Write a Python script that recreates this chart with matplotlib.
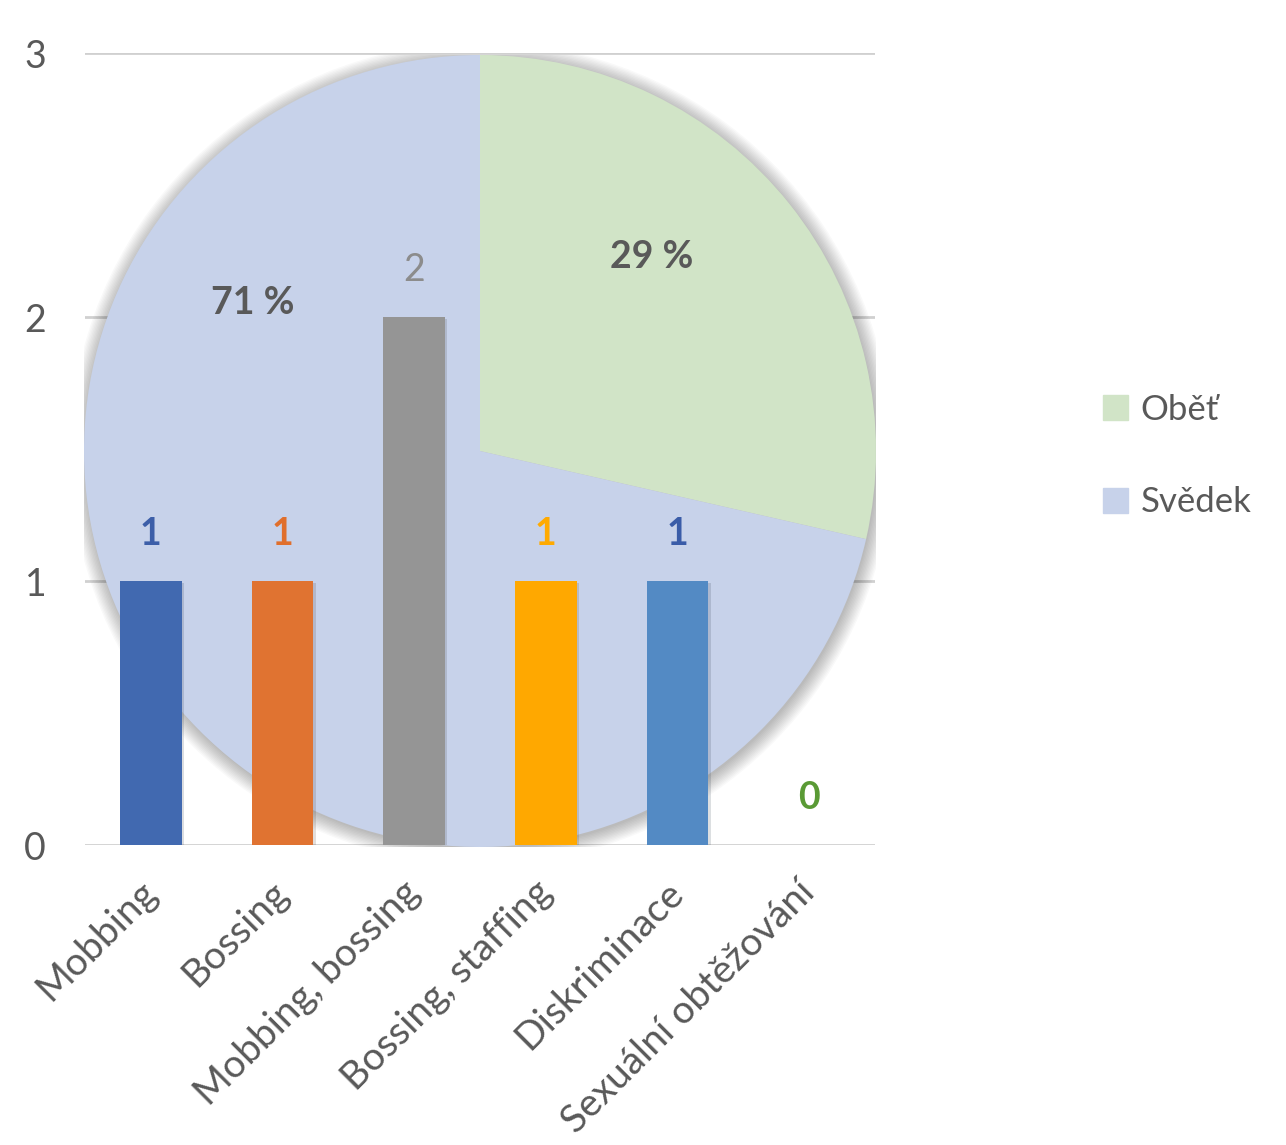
import matplotlib
matplotlib.use("Agg")
import matplotlib.pyplot as plt
from matplotlib.patches import Patch, Circle
import matplotlib.patheffects as pe
from matplotlib.transforms import ScaledTranslation

plt.rcParams['font.family'] = ['Lato', 'DejaVu Sans']

# Bar data
categories = ["Mobbing", "Bossing", "Mobbing, bossing", "Bossing, staffing",
              "Diskriminace", "Sexuální obtěžování"]
bar_values = [1, 1, 2, 1, 1, 0]
bar_colors = ["#4169B0", "#E07331", "#959595", "#FFA800", "#538AC4", "#70AD47"]
label_colors = ["#3C5EA8", "#E06F2C", "#8C8C8C", "#FFAA00", "#3A5CA8", "#5A9A35"]
label_weights = ["bold", "bold", "normal", "bold", "bold", "bold"]

# Pie data
pie_labels = ["Oběť", "Svědek"]
pie_values = [2, 5]
pie_colors = ["#D1E4C7", "#C7D2EA"]
yticks = [0, 1, 2, 3]

W, H = 1286, 1145
fig = plt.figure(figsize=(W / 100, H / 100), dpi=100)

def box(l, t, r, b):
    return [l / W, 1 - b / H, (r - l) / W, (b - t) / H]

# background axes: grid, ticks
ax_bg = fig.add_axes(box(85, 53, 875, 845))
ax_bg.set_xlim(-0.5, len(categories) - 0.5)
ax_bg.set_ylim(0, 3)
ax_bg.set_yticks(yticks)
ax_bg.set_yticklabels([str(v) for v in yticks], fontsize=27, color="#595959")
ax_bg.set_xticks(range(len(categories)))
ax_bg.set_xticklabels(categories, rotation=45, ha="right", va="center",
                      rotation_mode="anchor", fontsize=28, color="#595959")
shift = ScaledTranslation(10 / 100, 0, fig.dpi_scale_trans)
for lbl in ax_bg.get_xticklabels():
    lbl.set_transform(lbl.get_transform() + shift)
ax_bg.tick_params(axis="y", length=0, pad=28)
ax_bg.tick_params(axis="x", length=0, pad=30)
for s in ax_bg.spines.values():
    s.set_visible(False)
ax_bg.grid(axis="y", color="#D0D0D0", linewidth=2)
ax_bg.set_axisbelow(True)

# pie axes
cx, cy, r = 480, 451, 396
ax_pie = fig.add_axes(box(cx - r, cy - r, cx + r, cy + r))
for i in range(12):
    ax_pie.add_patch(Circle((0.003, -0.006), 1 + 0.0035 * i, color="#000000",
                            alpha=0.022, lw=0, zorder=0))
wedges, _ = ax_pie.pie(pie_values, colors=pie_colors, startangle=90,
                       counterclock=False, radius=1, frame=True,
                       wedgeprops=dict(linewidth=0))
ax_pie.set_xlim(-1, 1)
ax_pie.set_ylim(-1, 1)
ax_pie.axis("off")
tot = sum(pie_values)
pct_pos = [(0.434, 0.490), (-0.573, 0.374)]
for v, (px, py) in zip(pie_values, pct_pos):
    ax_pie.text(px, py, f"{round(100 * v / tot)} %", ha="center", va="center",
                fontsize=27, fontweight="bold", color="#595959")

# bar axes on top
ax_bar = fig.add_axes(box(85, 53, 875, 845))
ax_bar.patch.set_alpha(0)
ax_bar.set_xlim(-0.5, len(categories) - 0.5)
ax_bar.set_ylim(0, 3)
ax_bar.axis("off")
bars = ax_bar.bar(range(len(categories)), bar_values, width=0.47,
                  color=bar_colors)
for b in bars:
    b.set_path_effects([pe.SimplePatchShadow(offset=(1.5, -1.5), alpha=0.15),
                        pe.Normal()])
for i, (v, c, w) in enumerate(zip(bar_values, label_colors, label_weights)):
    ax_bar.annotate(str(v), (i, v), xytext=(0, 34), textcoords="offset points",
                    ha="center", va="center", fontsize=27,
                    fontweight=w, color=c)

handles = [Patch(color=c) for c in pie_colors]
fig.legend(handles, pie_labels, loc="center left",
           bbox_to_anchor=(1072 / W, 1 - 456 / H), frameon=False,
           fontsize=25, handlelength=0.72, handleheight=0.72,
           handletextpad=0.35, labelspacing=1.75, labelcolor="#595959")

fig.savefig("out.png", dpi=100)
